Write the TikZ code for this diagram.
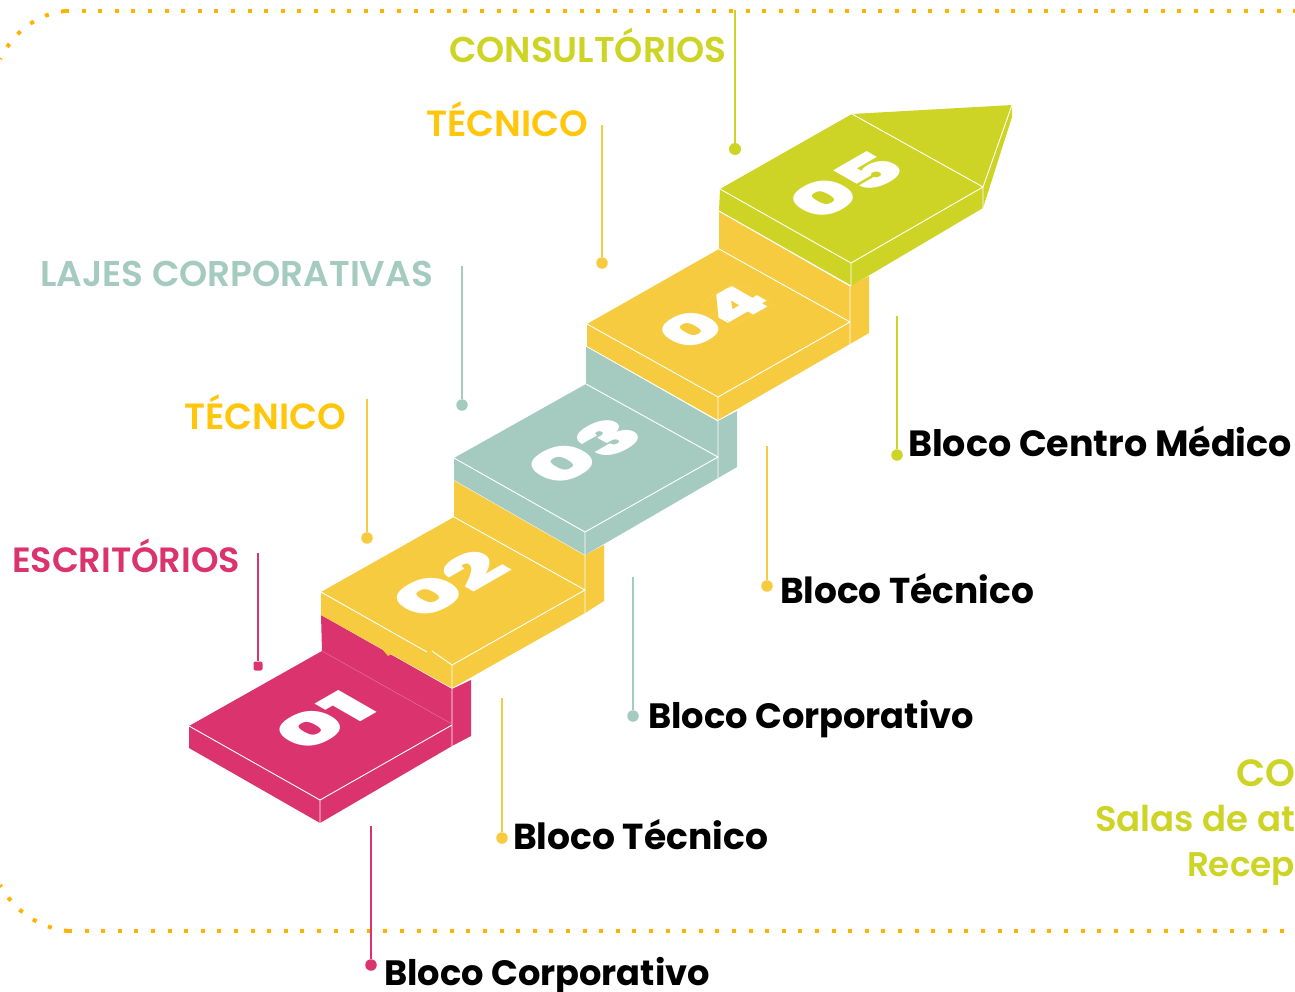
\documentclass[tikz,border=0pt]{standalone}
\usepackage{graphicx}
\usepackage{fontspec}
\setmainfont{Poppins}
\newfontfamily\numfont{Poppins Black}
\newfontfamily\headfont{Poppins SemiBold}
\newfontfamily\blockfont{Poppins Bold}
\definecolor{pinkc}{HTML}{DA336D}
\definecolor{yelc}{HTML}{F7CB3F}
\definecolor{tealc}{HTML}{A5CBC0}
\definecolor{limec}{HTML}{CED425}
\definecolor{goldc}{HTML}{FFC60B}
\definecolor{dotc}{HTML}{FFB300}
\newcommand\fw[2]{\resizebox{#1pt}{!}{#2}}
\tikzset{
  edge/.style={white,line width=0.9pt},
  lbl/.style={anchor=base west,inner sep=0pt,outer sep=0pt},
  heading/.style={lbl,font=\fontsize{32}{32}\headfont},
  blocktxt/.style={lbl,font=\fontsize{32}{32}\blockfont,text=black},
  lead/.style={line width=1.8pt},
  pin/.style={circle,inner sep=0pt,minimum size=11.5pt},
  iso/.style={cm={0.87,0.5,-0.87,0.5,(0,0)}},
  num/.style={inner sep=0pt,text=white,transform shape,font=\numfont,iso},
  border/.style={dotc,line width=4pt,dash pattern=on 4pt off 12.6pt}
}
\begin{document}
\begin{tikzpicture}[x=1pt,y=-1pt]
\useasboundingbox (0,0) rectangle (1295,991);
% dotted frame
\draw[border] (65,11) -- (1295,11);
\draw[border] (65,11) .. controls (38,14) and (15,30) .. (0,59);
\draw[border] (68,931) -- (1295,931);
\draw[border] (68,931) .. controls (40,928) and (15,912) .. (0,885);

% step 01
\fill[pinkc] (321,615) -- (452,689) -- (471,680) -- (471,736) -- (452,746) -- (320,823) -- (189,748) -- (189,726) -- (322,651) -- cycle;
\draw[edge] (189,726) -- (320,800) -- (452,725) (320,800) -- (320,823) (452,689) -- (452,746);
\draw[pinkc!70!white,line width=0.5pt] (322,651) -- (452,724);
% step 02
\fill[yelc] (454,480) -- (585,555) -- (604,545) -- (604,601) -- (585,613) -- (452,688) -- (321,615) -- (321,592) -- (454,517) -- cycle;
\fill[yelc] (383,650) .. controls (388,649) and (391,650) .. (393,653) -- (388,656) -- cycle;
\draw[edge] (321,592) -- (427,652) (432,651) -- (452,665) -- (585,590) -- (454,517) (452,665) -- (452,688) (454,480) -- (585,555) (585,555) -- (585,613);
% step 03
\fill[tealc] (586,346) -- (718,421) -- (737,411) -- (737,467) -- (718,478) -- (585,555) -- (454,480) -- (454,458) -- (586,384) -- cycle;
\draw[edge] (454,458) -- (585,532) -- (718,457) -- (586,384) (585,532) -- (585,555) (718,421) -- (718,478) (586,346) -- (718,421);
% step 04
\fill[yelc] (719,211) -- (850,286) -- (869,276) -- (869,333) -- (850,344) -- (718,420) -- (587,346) -- (587,324) -- (719,249) -- cycle;
\draw[edge] (587,324) -- (718,397) -- (850,322) -- (719,249) (718,397) -- (718,420) (850,286) -- (850,344) (719,211) -- (850,286);
% step 05
\fill[limec] (852,114) -- (1012,105) -- (1012,117) -- (983,208) -- (851,286) -- (719,211) -- (720,189) -- cycle;
\draw[edge] (720,189) -- (851,263) -- (983,187) -- (852,114) (851,263) -- (851,286) (983,187) -- (1012,105) (983,187) -- (983,208) (719,211) -- (851,286);

% numbers
\node[num] (n1) at (324,721) {\resizebox{86pt}{45pt}{01}};
\node[num] (n2) at (449,584) {\resizebox{104pt}{45pt}{02}};
\node[num] (n3) at (584,451) {\resizebox{104pt}{45pt}{03}};
\node[num] (n4) at (713,317) {\resizebox{100pt}{43pt}{04}};
\node[num] (n5) at (846,185) {\resizebox{104pt}{45pt}{05}};
\draw[yelc!85!white,line width=0.4pt] (701.7,306) -- (716.7,291.7) -- (733,285.7) -- (750,286.7) -- (750,293) (726.7,320) -- (733,325) -- (773,305) -- (766.7,299);

% headings
\node[heading,text=limec] (h5) at (449,62.5) {\fw{277}{CONSULTÓRIOS}};
\node[heading,text=goldc] (h4) at (426,136.5) {\fw{162}{TÉCNICO}};
\node[heading,text=tealc] (h3) at (40,286.5) {\fw{393}{LAJES CORPORATIVAS}};
\node[heading,text=goldc] (h2) at (184,429.5) {\fw{162}{TÉCNICO}};
\node[heading,text=pinkc] (h1) at (12,572.5) {\fw{228}{ESCRITÓRIOS}};

% block labels
\node[blocktxt] (b5) at (908,456) {\fw{384}{Bloco Centro Médico}};
\node[blocktxt] (b4) at (780,603) {\fw{254}{Bloco Técnico}};
\node[blocktxt] (b3) at (648,728) {\fw{326}{Bloco Corporativo}};
\node[blocktxt] (b2) at (513,849) {\fw{255}{Bloco Técnico}};
\node[blocktxt] (b1) at (384,985) {\fw{326}{Bloco Corporativo}};

% cut-off text at the right edge
\node[heading,text=limec] (c1) at (1236,786) {\fw{59}{CO}};
\node[heading,text=limec] (c2) at (1095,831) {\fw{200}{Salas de at}};
\node[heading,text=limec] (c3) at (1187,876) {\fw{108}{Recep}};

% leaders
\coordinate (t5) at (735,10);
\coordinate (t4) at (602,125);
\coordinate (t3) at (462,266);
\coordinate (t2) at (367,399);
\coordinate (t1) at (258,553);
\coordinate (u1) at (371,826);
\coordinate (u2) at (502,698);
\coordinate (u3) at (633,577);
\coordinate (u4) at (767,446);
\coordinate (u5) at (897,316);
\node[pin,fill=limec,minimum size=12pt] (d5) at (735,149) {};
\node[pin,fill=yelc] (d4) at (602,263) {};
\node[pin,fill=tealc] (d3) at (462,405) {};
\node[pin,fill=yelc] (d2) at (367,538) {};
\node[fill=pinkc,rounded corners=2pt,inner sep=0pt,minimum size=9pt] (d1) at (258,666) {};
\node[pin,fill=pinkc] (e1) at (371,965) {};
\node[pin,fill=yelc] (e2) at (502,838) {};
\node[pin,fill=tealc] (e3) at (633,716) {};
\node[pin,fill=yelc] (e4) at (767,586) {};
\node[pin,fill=limec] (e5) at (897,455) {};
\draw[lead,limec] (t5) -- (d5);
\draw[lead,yelc] (t4) -- (d4);
\draw[lead,tealc] (t3) -- (d3);
\draw[lead,yelc] (t2) -- (d2);
\draw[lead,pinkc] (t1) -- (d1);
\draw[lead,pinkc] (u1) -- (e1);
\draw[lead,yelc] (u2) -- (e2);
\draw[lead,tealc] (u3) -- (e3);
\draw[lead,yelc] (u4) -- (e4);
\draw[lead,limec] (u5) -- (e5);
\end{tikzpicture}
\end{document}
